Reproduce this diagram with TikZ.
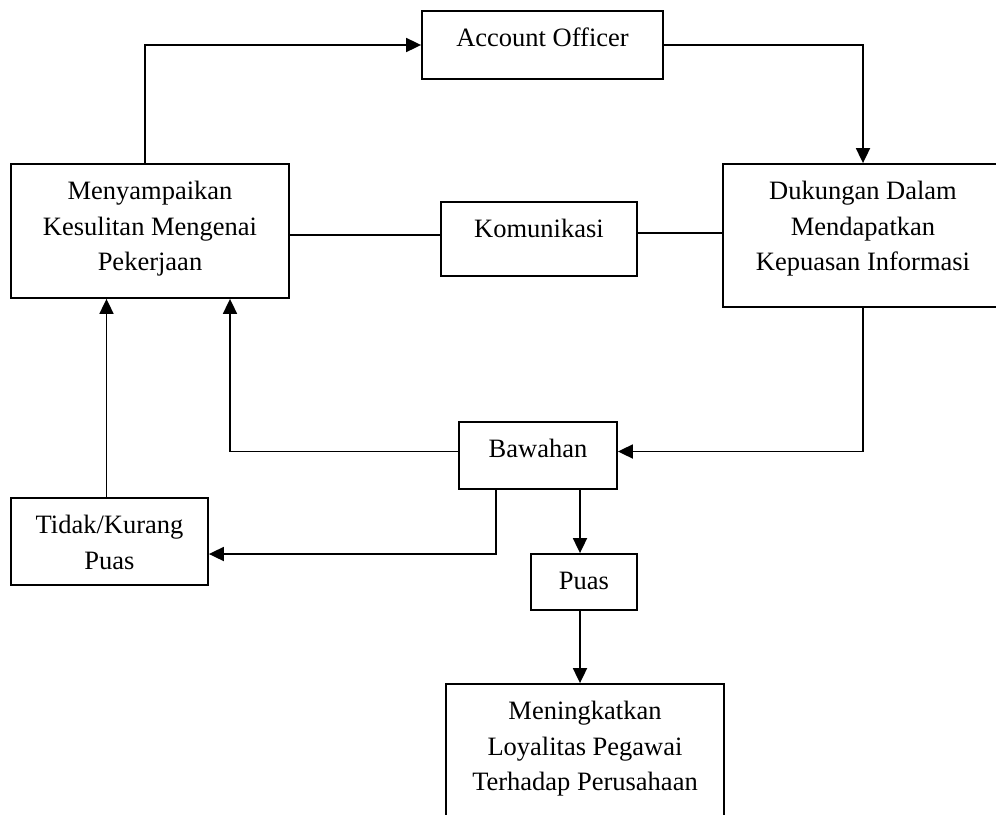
\documentclass[tikz,border=0pt]{standalone}
\usepackage{fontspec}
\setmainfont{Liberation Serif}
\usetikzlibrary{arrows.meta}
\begin{document}
\begin{tikzpicture}[x=1pt, y=-1pt,
  box/.style={draw, line width=1.8pt, rectangle, inner sep=0pt},
  txt/.style={anchor=north, align=center, inner sep=0pt,
    font=\fontsize{26.5}{35.5}\selectfont},
  link/.style={line width=1.8pt},
  arr/.style={line width=1.8pt, -{Triangle[length=15pt, width=14pt]}}]
\useasboundingbox (0,0) rectangle (996,814);
\clip (0,0) rectangle (996,814);
\newcommand{\sst}{\rule{0pt}{20pt}}

% boxes
\node[box, minimum width=241pt, minimum height=68pt]  (ao)  at (542.5,45)  {};
\node[box, minimum width=278pt, minimum height=134pt] (men) at (150,231)   {};
\node[box, minimum width=196pt, minimum height=74pt]  (kom) at (539,239)   {};
\node[box, minimum width=280pt, minimum height=143pt] (duk) at (863,235.5) {};
\node[box, minimum width=158pt, minimum height=67pt]  (baw) at (538,455.5) {};
\node[box, minimum width=197pt, minimum height=87pt]  (tid) at (109.5,541.5) {};
\node[box, minimum width=106pt, minimum height=56pt]  (puas) at (584,582)  {};
\node[box, minimum width=278pt, minimum height=146pt] (men2) at (585,757)  {};

% labels
\node[txt] (tao)   at (542.5,26.5)  {\sst Account Officer};
\node[txt] (tmen)  at (150,179.5)   {\sst Menyampaikan\\Kesulitan Mengenai\\Pekerjaan};
\node[txt] (tkom)  at (539,217.5)   {\sst Komunikasi};
\node[txt] (tduk)  at (863,179.5)   {\sst Dukungan Dalam\\Mendapatkan\\Kepuasan Informasi};
\node[txt] (tbaw)  at (538,437.5)   {\sst Bawahan};
\node[txt] (ttid)  at (109.5,513.5) {\sst Tidak/Kurang\\Puas};
\node[txt] (tpuas) at (584,569.5)   {\sst Puas};
\node[txt] (tmen2) at (585,699.5)   {\sst Meningkatkan\\Loyalitas Pegawai\\Terhadap Perusahaan};

% connectors
\draw[arr] ([xshift=-5pt]men.north) |- (ao.west);
\draw[arr] (ao.east) -| (duk.north);
\draw[link] ([yshift=4pt]kom.west) -- ([yshift=4pt]kom.west -| men.east);
\draw[link] ([yshift=6pt]kom.east) -- ([yshift=6pt]kom.east -| duk.west);
\draw[arr] (duk.south) |- ([yshift=4pt]baw.east);
\draw[arr] ([yshift=4pt]baw.west) -| ([xshift=80pt]men.south);
\draw[arr] ([xshift=-3pt]tid.north) -- ([xshift=-3pt]tid.north |- men.south);
\draw[arr] ([xshift=-42pt]baw.south) |- ([yshift=-12.5pt]tid.east);
\draw[arr] ([xshift=-4pt]puas.north |- baw.south) -- ([xshift=-4pt]puas.north);
\draw[arr] ([xshift=-4pt]puas.south) -- ([xshift=-4pt]puas.south |- men2.north);
\end{tikzpicture}
\end{document}
